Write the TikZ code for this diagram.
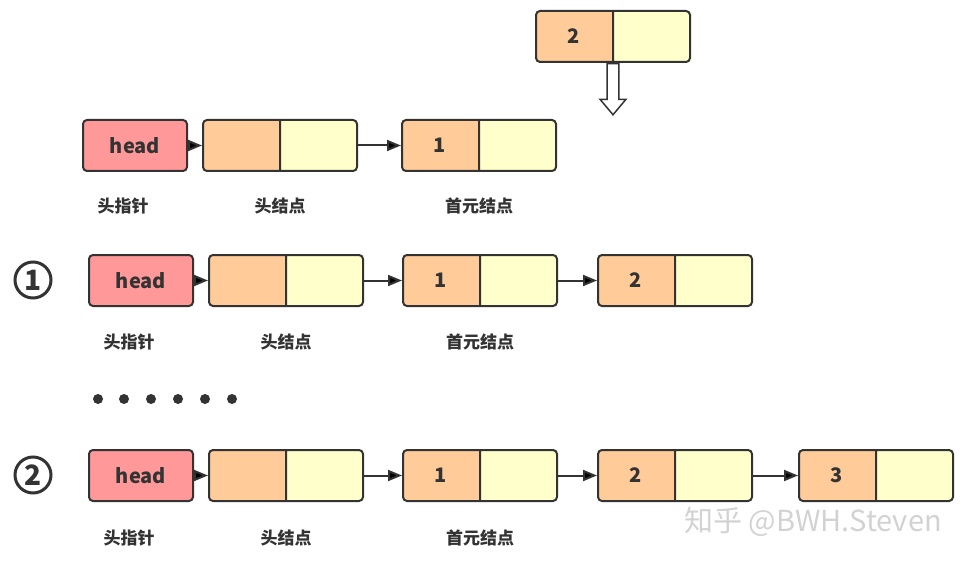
\documentclass[tikz,border=0pt]{standalone}
\usepackage{fontspec}
\newfontfamily\cjk{Noto Sans CJK SC}
\usetikzlibrary{arrows.meta, positioning, shapes.multipart, shapes.arrows}
\definecolor{headred}{HTML}{FF9999}
\definecolor{cellorange}{HTML}{FFCC99}
\definecolor{cellyellow}{HTML}{FFFFCC}
\definecolor{inkgray}{HTML}{333333}
\tikzset{
    headbox/.style={
        draw=inkgray,
        line width=2pt,
        rounded corners=4pt,
        fill=headred,
        minimum width=104pt,
        minimum height=51pt,
        font=\cjk\bfseries\fontsize{20}{24}\selectfont,
        text=inkgray
    },
    listnode/.style={
        draw=inkgray,
        line width=2pt,
        rounded corners=4pt,
        rectangle split,
        rectangle split horizontal,
        rectangle split parts=2,
        rectangle split part fill={cellorange, cellyellow},
        minimum height=51pt,
        inner xsep=0pt,
        anchor=north west,
        font=\cjk\bfseries\fontsize{20}{24}\selectfont,
        text=inkgray
    },
    line/.style={-{Triangle[length=14pt, width=11pt]}, line width=2pt, draw=inkgray},
    caption/.style={font=\cjk\bfseries\fontsize{17}{20}\selectfont, text=inkgray},
    stepmark/.style={circle, draw=inkgray, line width=3pt, minimum size=36pt, inner sep=0pt,
        font=\cjk\bfseries\fontsize{28}{30}\selectfont, text=inkgray},
    dot/.style={circle, fill=inkgray, minimum size=10pt, inner sep=0pt},
    every node/.style={font=\cjk}
}
\newcommand{\cell}[1]{\makebox[76pt]{#1}}

\begin{document}
\begin{tikzpicture}[x=1pt, y=-1pt]
\useasboundingbox (0,0) rectangle (969,564);

% node waiting to be inserted
\node[listnode] (new) at (535,10) {\cell{2}\nodepart{two}\cell{}};
\node[single arrow, draw=inkgray, fill=white, line width=1.5pt, shape border rotate=270,
      minimum height=51pt, minimum width=26pt, single arrow head extend=7pt,
      single arrow tip angle=80, anchor=tail, inner sep=5pt] (down) at (new.one split south) {};

% empty list with head node
\node[headbox, anchor=north west] (h0) at (82,119) {head};
\node[listnode] (a0) at (202,119) {\cell{}\nodepart{two}\cell{}};
\node[listnode] (b0) at (401,119) {\cell{1}\nodepart{two}\cell{}};
\draw[line] (h0) -- (a0);
\draw[line] (a0) -- (b0);
\node[caption, below=22pt of h0, xshift=-12pt] (hl0) {头指针};
\node[caption, below=22pt of a0] (al0) {头结点};
\node[caption, below=22pt of b0] (bl0) {首元结点};

% step 1
\node[stepmark] (s1) at (33,280) {1};
\node[headbox, anchor=north west] (h1) at (88,254) {head};
\node[listnode] (a1) at (208,254) {\cell{}\nodepart{two}\cell{}};
\node[listnode] (b1) at (402,254) {\cell{1}\nodepart{two}\cell{}};
\node[listnode] (c1) at (597,254) {\cell{2}\nodepart{two}\cell{}};
\draw[line] (h1) -- (a1);
\draw[line] (a1) -- (b1);
\draw[line] (b1) -- (c1);
\node[caption, below=23pt of h1, xshift=-12pt] (hl1) {头指针};
\node[caption, below=23pt of a1] (al1) {头结点};
\node[caption, below=23pt of b1] (bl1) {首元结点};

% dots
\foreach \dx [count=\i] in {98,124,151,178,205,232}
  \node[dot] (dot\i) at (\dx,399) {};

% step 2
\node[stepmark] (s2) at (33,475) {2};
\node[headbox, anchor=north west] (h2) at (88,449) {head};
\node[listnode] (a2) at (208,449) {\cell{}\nodepart{two}\cell{}};
\node[listnode] (b2) at (402,449) {\cell{1}\nodepart{two}\cell{}};
\node[listnode] (c2) at (597,449) {\cell{2}\nodepart{two}\cell{}};
\node[listnode] (d2) at (798,449) {\cell{3}\nodepart{two}\cell{}};
\draw[line] (h2) -- (a2);
\draw[line] (a2) -- (b2);
\draw[line] (b2) -- (c2);
\draw[line] (c2) -- (d2);
\node[caption, below=24pt of h2, xshift=-12pt] (hl2) {头指针};
\node[caption, below=24pt of a2] (al2) {头结点};
\node[caption, below=24pt of b2] (bl2) {首元结点};

% watermark
\node[text=gray!35, font=\cjk\fontsize{29}{32}\selectfont] (mark) at (813,522) {知乎 @BWH.Steven};
\end{tikzpicture}
\end{document}
